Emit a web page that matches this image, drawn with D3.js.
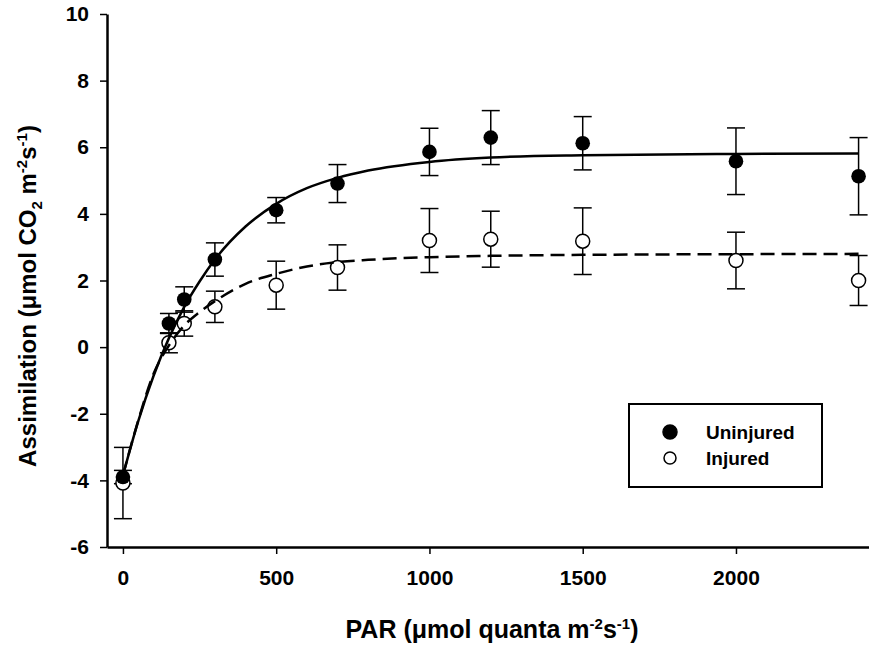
<!DOCTYPE html>
<html>
<head>
<meta charset="utf-8">
<script src="https://cdn.jsdelivr.net/npm/d3@7"></script>
<style>
  body { margin: 0; background: #fff; }
  text { font-family: "Liberation Sans", Arial, sans-serif; font-weight: bold; }
</style>
</head>
<body>
<svg id="chart"></svg>
<script>
// measured points (PAR vs assimilation)
var parX = [0, 150, 200, 300, 500, 700, 1000, 1200, 1500, 2000, 2400];
var uninjured = [-3.9, 0.71, 1.43, 2.63, 4.11, 4.91, 5.86, 6.29, 6.12, 5.58, 5.13];
var uninjuredErr = [0.2, 0.3, 0.38, 0.5, 0.38, 0.57, 0.71, 0.81, 0.8, 1.0, 1.16];
var injured = [-4.08, 0.13, 0.71, 1.21, 1.86, 2.39, 3.2, 3.24, 3.18, 2.6, 2.0];
var injuredErr = [1.07, 0.3, 0.38, 0.47, 0.72, 0.68, 0.96, 0.84, 1.0, 0.85, 0.75];

// fitted curves
var fitX = [0, 50, 100, 150, 200, 250, 300, 400, 500, 600, 700, 800, 1000, 1200, 1500, 2000, 2400];
var uninjuredFit = [-3.85, -2.22, -0.86, 0.27, 1.21, 1.97, 2.63, 3.62, 4.30, 4.77, 5.08, 5.3, 5.56, 5.69, 5.76, 5.8, 5.81];
var injuredFit = [-3.85, -2.2, -0.8, 0.05, 0.65, 1.05, 1.38, 1.9, 2.2, 2.42, 2.55, 2.62, 2.7, 2.74, 2.77, 2.79, 2.8];

var xTicks = [0, 500, 1000, 1500, 2000];
var yTicks = [-6, -4, -2, 0, 2, 4, 6, 8, 10];
var legendLabels = ["Uninjured", "Injured"];

var width = 869, height = 645;

var svg = d3.select("#chart")
  .attr("width", width)
  .attr("height", height);

var x = d3.scaleLinear().domain([-52, 2434]).range([107, 869]);
var y = d3.scaleLinear().domain([-6, 10]).range([547, 14]);

var plain = function (d) { return String(d); };

// X axis
var xAxis = svg.append("g")
  .attr("transform", "translate(0," + y(-6) + ")")
  .call(d3.axisBottom(x).tickValues(xTicks).tickFormat(plain)
    .tickSize(7).tickSizeOuter(0).tickPadding(16));
xAxis.select(".domain").attr("stroke-width", 2.5);
xAxis.selectAll(".tick line").attr("stroke-width", 1.5);
xAxis.selectAll("text").style("font-size", "21px").attr("fill", "#000");

// Y axis
var yAxis = svg.append("g")
  .attr("transform", "translate(" + x(-52) + ",0)")
  .call(d3.axisLeft(y).tickValues(yTicks).tickFormat(plain)
    .tickSize(7).tickSizeOuter(0).tickPadding(11));
yAxis.select(".domain").attr("stroke-width", 2.5);
yAxis.selectAll(".tick line").attr("stroke-width", 1.5);
yAxis.selectAll("text").style("font-size", "21px").attr("fill", "#000");

// axis titles
var xt = svg.append("text")
  .attr("x", 492)
  .attr("y", 638)
  .attr("text-anchor", "middle")
  .style("font-size", "25px");
xt.append("tspan").text("PAR (\u03bcmol quanta m");
xt.append("tspan").attr("dy", -9).style("font-size", "15px").text("-2");
xt.append("tspan").attr("dy", 9).text("s");
xt.append("tspan").attr("dy", -9).style("font-size", "15px").text("-1");
xt.append("tspan").attr("dy", 9).text(")");

var yt = svg.append("text")
  .attr("transform", "translate(36,296)rotate(-90)")
  .attr("text-anchor", "middle")
  .style("font-size", "24px");
yt.append("tspan").text("Assimilation (\u03bcmol CO");
yt.append("tspan").attr("dy", 6).style("font-size", "15px").text("2");
yt.append("tspan").attr("dy", -6).text(" m");
yt.append("tspan").attr("dy", -9).style("font-size", "15px").text("-2");
yt.append("tspan").attr("dy", 9).text("s");
yt.append("tspan").attr("dy", -9).style("font-size", "15px").text("-1");
yt.append("tspan").attr("dy", 9).text(")");

// error bars
function errorBars(vals, errs) {
  var g = svg.append("g").attr("stroke", "#000").attr("stroke-width", 1.5);
  var cap = 9;
  parX.forEach(function (px, i) {
    var cx = x(px), top = y(vals[i] + errs[i]), bot = y(vals[i] - errs[i]);
    g.append("line").attr("x1", cx).attr("x2", cx).attr("y1", top).attr("y2", bot);
    g.append("line").attr("x1", cx - cap).attr("x2", cx + cap).attr("y1", top).attr("y2", top);
    g.append("line").attr("x1", cx - cap).attr("x2", cx + cap).attr("y1", bot).attr("y2", bot);
  });
}
errorBars(uninjured, uninjuredErr);
errorBars(injured, injuredErr);

// points
svg.selectAll("circle.inj")
  .data(parX)
  .enter()
  .append("circle")
  .attr("class", "inj")
  .attr("cx", function (d) { return x(d); })
  .attr("cy", function (d, i) { return y(injured[i]); })
  .attr("r", 7)
  .attr("fill", "#fff")
  .attr("stroke", "#000")
  .attr("stroke-width", 1.5);

svg.selectAll("circle.uninj")
  .data(parX)
  .enter()
  .append("circle")
  .attr("class", "uninj")
  .attr("cx", function (d) { return x(d); })
  .attr("cy", function (d, i) { return y(uninjured[i]); })
  .attr("r", 7.3)
  .attr("fill", "#000");

// fitted curves
var line = d3.line()
  .x(function (d) { return x(d[0]); })
  .y(function (d) { return y(d[1]); })
  .curve(d3.curveMonotoneX);

svg.append("path")
  .datum(fitX.map(function (d, i) { return [d, uninjuredFit[i]]; }))
  .attr("d", line)
  .attr("fill", "none")
  .attr("stroke", "#000")
  .attr("stroke-width", 2.5);

svg.append("path")
  .datum(fitX.map(function (d, i) { return [d, injuredFit[i]]; }))
  .attr("d", line)
  .attr("fill", "none")
  .attr("stroke", "#000")
  .attr("stroke-width", 2.5)
  .attr("stroke-dasharray", "14,7");

// legend
var legend = svg.append("g");
legend.append("rect")
  .attr("x", 629).attr("y", 404)
  .attr("width", 193).attr("height", 83)
  .attr("fill", "#fff")
  .attr("stroke", "#000")
  .attr("stroke-width", 2);
legendLabels.forEach(function (lab, i) {
  var ly = 432 + i * 26;
  legend.append("circle")
    .attr("cx", 670).attr("cy", ly)
    .attr("r", i === 0 ? 7 : 6)
    .attr("fill", i === 0 ? "#000" : "#fff")
    .attr("stroke", "#000")
    .attr("stroke-width", 1.5);
  legend.append("text")
    .attr("x", 706).attr("y", ly + 7)
    .style("font-size", "19px")
    .text(lab);
});
</script>
</body>
</html>
